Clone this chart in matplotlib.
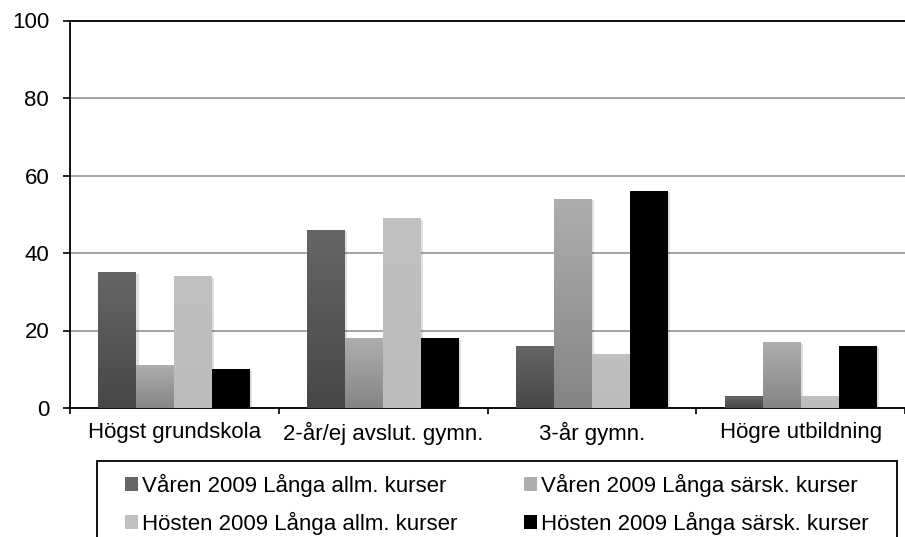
import numpy as np
import matplotlib
matplotlib.use('Agg')
import matplotlib.pyplot as plt
import matplotlib.patheffects as pe
from matplotlib.colors import LinearSegmentedColormap
from matplotlib.patches import Rectangle, Patch

# ---------------------------- Данные ----------------------------
categories = ['Högst grundskola', '2-år/ej avslut. gymn.', '3-år gymn.', 'Högre utbildning']
series_names = ['Våren 2009 Långa allm. kurser', 'Våren 2009 Långa särsk. kurser',
                'Hösten 2009 Långa allm. kurser', 'Hösten 2009 Långa särsk. kurser']
var_allm = [35, 46, 16, 3]
var_sarsk = [11, 18, 54, 17]
host_allm = [34, 49, 14, 3]
host_sarsk = [10, 18, 56, 16]
y_ticks = [0, 20, 40, 60, 80, 100]

# ---------------------------- Стиль -----------------------------
plt.rcParams['font.family'] = ['Liberation Sans', 'DejaVu Sans']
FS = 16
# (верх, низ) градиента столбцов
GRADS = [('#666666', '#474747'), ('#aeaeae', '#858585'),
         ('#c0c0c0', '#bcbcbc'), ('#000000', '#000000')]

W, H = 905, 537
fig = plt.figure(figsize=(W / 100, H / 100), dpi=100)
ax = fig.add_axes([70 / W, 1 - 408 / H, (W - 70) / W, (408 - 20.5) / H])

data = [var_allm, var_sarsk, host_allm, host_sarsk]
n = len(data)
bw = 1 / 5.5
x = np.arange(len(categories))
grad = np.linspace(0, 1, 256).reshape(-1, 1)

for i, vals in enumerate(data):
    top, bot = GRADS[i]
    cmap = LinearSegmentedColormap.from_list(f'g{i}', [bot, top])
    pos = x + (i - (n - 1) / 2) * bw
    bars = ax.bar(pos, vals, width=bw, color=top, linewidth=0, zorder=2)
    for b in bars:
        b.set_path_effects([pe.SimplePatchShadow(offset=(1.5, -1), shadow_rgbFace='k', alpha=0.12),
                            pe.Normal()])
        x0, w, h = b.get_x(), b.get_width(), b.get_height()
        im = ax.imshow(grad, extent=[x0, x0 + w, 0, h], origin='lower', aspect='auto',
                       cmap=cmap, zorder=3, interpolation='bilinear')
        im.set_clip_path(b)

ax.set_xlim(-0.5, len(categories) - 0.5)
ax.set_ylim(0, 100)
ax.set_yticks(y_ticks)
ax.set_xticks(x)
ax.set_xticklabels(categories)
ax.set_xticks(np.arange(len(categories) + 1) - 0.5, minor=True)

ax.tick_params(axis='x', which='major', length=0, pad=10, labelsize=FS)
ax.tick_params(axis='x', which='minor', length=4.5, width=1.2, direction='out')
ax.tick_params(axis='y', length=5, width=1.2, pad=10, labelsize=FS)
ax.set_axisbelow(True)
ax.yaxis.grid(True, color='#8a8a8a', linewidth=1.1)

for s in ['left', 'bottom', 'top']:
    ax.spines[s].set_linewidth(1.3)
    ax.spines[s].set_color('black')
ax.spines['right'].set_visible(False)

# Легенда в рамке, обрезанной снизу
fig.patches.append(Rectangle((97 / W, -0.05), 800 / W, (1 - 461 / H) + 0.05,
                             transform=fig.transFigure, fill=False, edgecolor='black',
                             linewidth=1.3))
handles = [Patch(facecolor=GRADS[i][0], edgecolor='none') for i in range(n)]
leg_kw = dict(loc='upper left', frameon=False, fontsize=FS,
              handlelength=0.6, handleheight=0.6, handletextpad=0.15,
              labelspacing=0.65, borderaxespad=0, borderpad=0)
for col, x_px in [(0, 125), (1, 524)]:
    idx = [col, col + 2]
    fig.legend([handles[k] for k in idx], [series_names[k] for k in idx],
               bbox_to_anchor=(x_px / W, 1 - 474 / H), **leg_kw)

fig.savefig('out.png', dpi=100)
